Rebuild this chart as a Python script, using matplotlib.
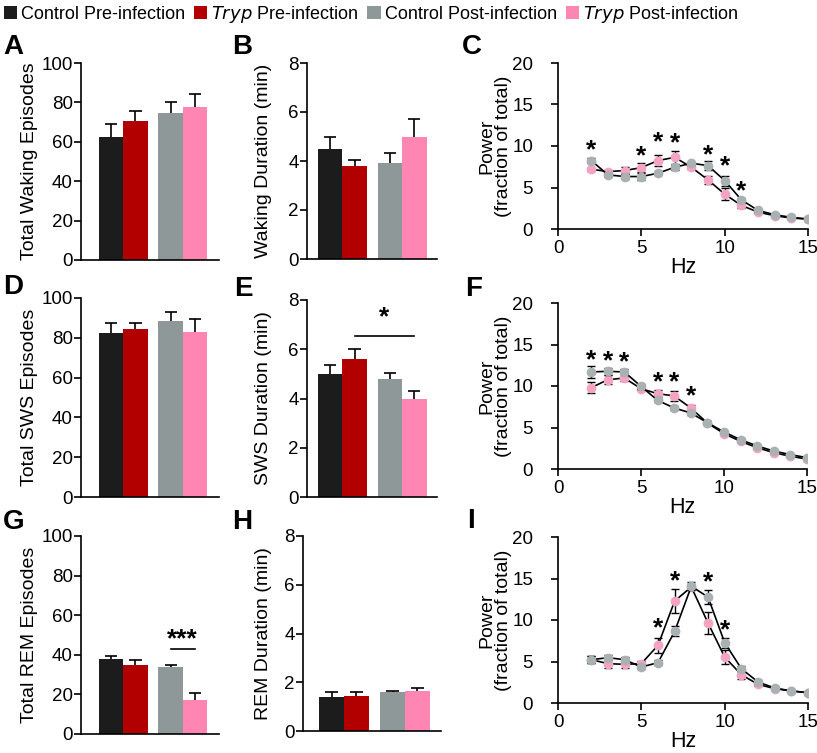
import numpy as np
import matplotlib
matplotlib.use('Agg')
import matplotlib.pyplot as plt
from matplotlib.patches import Patch

plt.rcParams['font.family'] = ['Liberation Sans', 'DejaVu Sans']
plt.rcParams['mathtext.fontset'] = 'custom'
plt.rcParams['mathtext.it'] = 'Liberation Sans Narrow:italic'
plt.rcParams['mathtext.rm'] = 'Liberation Sans Narrow'

# ─── Data ─────────────────────────────────────────────────────────────────────
GROUPS = ['Control Pre-infection', '$Tryp$ Pre-infection',
          'Control Post-infection', '$Tryp$ Post-infection']
BAR_COLORS = ['#1c1c1c', '#b20000', '#8e9898', '#ff86b3']
GRAY_MK = '#a9b1b3'
PINK_MK = '#f5a3c2'

wake_ep = [62.4, 70.7, 74.4, 77.8]
wake_ep_err = [6.8, 4.7, 5.6, 6.6]
wake_dur = [4.5, 3.79, 3.9, 4.99]
wake_dur_err = [0.49, 0.24, 0.43, 0.71]
sws_ep = [82.4, 84.4, 88.5, 83.1]
sws_ep_err = [5.0, 3.0, 4.3, 6.2]
sws_dur = [4.99, 5.61, 4.8, 3.97]
sws_dur_err = [0.38, 0.41, 0.23, 0.35]
rem_ep = [37.8, 35.1, 33.6, 17.0]
rem_ep_err = [1.7, 2.5, 1.3, 3.5]
rem_dur = [1.4, 1.44, 1.59, 1.66]
rem_dur_err = [0.2, 0.16, 0.07, 0.1]

hz = [2, 3, 4, 5, 6, 7, 8, 9, 10, 11, 12, 13, 14, 15]

# wake spectra (C)
wake_ctl = [8.24, 6.52, 6.32, 6.32, 6.72, 7.44, 7.92, 7.64, 5.84, 3.52, 2.24, 1.72, 1.4, 1.2]
wake_ctl_err = [0.3, 0.2, 0.3, 0.4, 0.2, 0.3, 0.2, 0.56, 0.6, 0.25, 0.15, 0.1, 0.1, 0.1]
wake_tryp = [7.2, 6.92, 7.04, 7.4, 8.24, 8.64, 7.44, 5.92, 4.2, 2.84, 2.04, 1.6, 1.32, 1.2]
wake_tryp_err = [0.2, 0.2, 0.45, 0.5, 0.7, 0.76, 0.2, 0.5, 0.76, 0.3, 0.1, 0.1, 0.1, 0.1]
wake_star_x = [2, 5, 6, 7, 9, 10, 11]
wake_star_y = [9.5, 8.8, 10.4, 10.3, 8.9, 7.6, 4.5]

# SWS spectra (F)
sws_ctl = [11.69, 11.77, 11.69, 9.96, 8.27, 7.35, 6.75, 5.58, 4.46, 3.53, 2.77, 2.17, 1.73, 1.37]
sws_ctl_err = [0.7, 0.4, 0.3, 0.3, 0.2, 0.2, 0.2, 0.15, 0.15, 0.1, 0.1, 0.1, 0.1, 0.1]
sws_tryp = [9.8, 10.76, 10.96, 9.68, 9.08, 8.8, 7.35, 5.54, 4.26, 3.33, 2.57, 1.97, 1.53, 1.2]
sws_tryp_err = [0.7, 0.56, 0.3, 0.2, 0.4, 0.56, 0.4, 0.15, 0.15, 0.1, 0.1, 0.1, 0.1, 0.1]
sws_star_x = [2, 3, 4, 6, 7, 8]
sws_star_y = [13.1, 13.0, 12.8, 10.4, 10.4, 8.7]

# REM spectra (I)
rem_ctl = [5.22, 5.46, 5.22, 4.34, 4.86, 8.63, 14.06, 12.77, 7.27, 4.14, 2.53, 1.81, 1.45, 1.24]
rem_ctl_err = [0.4, 0.3, 0.3, 0.2, 0.3, 0.6, 0.5, 0.8, 0.6, 0.3, 0.2, 0.1, 0.1, 0.1]
rem_tryp = [5.22, 4.74, 4.66, 4.74, 6.95, 12.29, 13.98, 9.64, 5.54, 3.41, 2.25, 1.73, 1.45, 1.24]
rem_tryp_err = [0.4, 0.5, 0.5, 0.3, 0.9, 1.4, 0.4, 1.3, 0.8, 0.5, 0.2, 0.1, 0.1, 0.1]
rem_star_x = [6, 7, 9, 10]
rem_star_y = [8.96, 14.7, 14.6, 8.8]

# ─── Layout helpers ───────────────────────────────────────────────────────────
W, H = 817, 753
fig = plt.figure(figsize=(W / 100, H / 100), dpi=100)
XPOS = [0, 1, 2.45, 3.45]
LW = 1.2
TICK_FS = 13.5
LABEL_FS = 14


def add_ax(left, top, right, bottom):
    return fig.add_axes([left / W, 1 - bottom / H, (right - left) / W, (bottom - top) / H])


def style(ax):
    for s in ['top', 'right']:
        ax.spines[s].set_visible(False)
    for s in ['left', 'bottom']:
        ax.spines[s].set_linewidth(LW)
    ax.tick_params(width=LW, length=5, labelsize=TICK_FS, direction='out', pad=1)


def bar_panel(box, vals, errs, ymax, step, ylabel, label_x, xlim):
    ax = add_ax(*box)
    ax.bar(XPOS, vals, width=1.0, color=BAR_COLORS, zorder=2)
    tops = np.array(vals) + np.array(errs)
    ax.vlines(XPOS, vals, tops, color='black', lw=LW, zorder=1)
    ax.hlines(tops, np.array(XPOS) - 0.25, np.array(XPOS) + 0.25, color='black', lw=LW, zorder=1)
    ax.set_ylim(0, ymax)
    ax.set_yticks(np.arange(0, ymax + step / 2, step))
    ax.set_xlim(*xlim)
    ax.set_xticks([])
    style(ax)
    ax.set_ylabel(ylabel, fontsize=LABEL_FS)
    ax.yaxis.set_label_coords((label_x - box[0]) / (box[2] - box[0]), 0.5)
    return ax


def line_panel(box, ctl, ctl_err, tryp, tryp_err, star_x, star_y):
    ax = add_ax(*box)
    ax.errorbar(hz, tryp, yerr=tryp_err, color='black', lw=LW, ecolor='black',
                elinewidth=1.0, capsize=2.8, capthick=1.0, zorder=2,
                marker='o', markersize=6, mfc=PINK_MK, mec=PINK_MK)
    ax.errorbar(hz, ctl, yerr=ctl_err, color='black', lw=LW, ecolor='black',
                elinewidth=1.0, capsize=2.8, capthick=1.0, zorder=3,
                marker='o', markersize=6, mfc=GRAY_MK, mec=GRAY_MK)
    for sx, sy in zip(star_x, star_y):
        ax.text(sx, sy, '*', ha='center', va='center', fontsize=19, fontweight='bold')
    ax.set_xlim(0, 15)
    ax.set_ylim(0, 20)
    ax.set_xticks([0, 5, 10, 15])
    ax.set_yticks([0, 5, 10, 15, 20])
    style(ax)
    ax.tick_params(axis='y', pad=13)
    ax.tick_params(axis='x', pad=3)
    ax.set_xlabel('Hz', fontsize=LABEL_FS + 1.5, labelpad=0)
    ax.set_ylabel('Power\n(fraction of total)', fontsize=LABEL_FS, linespacing=0.95)
    ax.yaxis.set_label_coords((512 - box[0]) / (box[2] - box[0]), 0.5)
    return ax


# ─── Bars ─────────────────────────────────────────────────────────────────────
bar_panel((81, 63, 219, 260), wake_ep, wake_ep_err, 100, 20,
          'Total Waking Episodes', 38, (-1.25, 4.45))
bar_panel((307, 63, 437, 259), wake_dur, wake_dur_err, 8, 2,
          'Waking Duration (min)', 272, (-0.95, 4.38))
bar_panel((81, 298, 219, 497), sws_ep, sws_ep_err, 100, 20,
          'Total SWS Episodes', 38, (-1.25, 4.45))
axE = bar_panel((307, 300, 437, 497), sws_dur, sws_dur_err, 8, 2,
                'SWS Duration (min)', 272, (-0.95, 4.38))
axG = bar_panel((81, 536, 219, 734), rem_ep, rem_ep_err, 100, 20,
                'Total REM Episodes', 38, (-1.25, 4.45))
bar_panel((303, 536, 441, 731), rem_dur, rem_dur_err, 8, 2,
          'REM Duration (min)', 272, (-1.15, 4.4))

# significance brackets
axE.plot([XPOS[1], XPOS[3]], [6.53, 6.53], color='black', lw=LW)
axE.text((XPOS[1] + XPOS[3]) / 2, 7.3, '*', ha='center', va='center', fontsize=19, fontweight='bold')
axG.plot([XPOS[2], XPOS[3]], [42.7, 42.7], color='black', lw=LW)
axG.text((XPOS[2] + XPOS[3]) / 2, 48, '***', ha='center', va='center', fontsize=19, fontweight='bold')

# ─── Spectra ──────────────────────────────────────────────────────────────────
line_panel((558, 63, 808, 229), wake_ctl, wake_ctl_err, wake_tryp, wake_tryp_err,
           wake_star_x, wake_star_y)
line_panel((558, 303, 807, 469), sws_ctl, sws_ctl_err, sws_tryp, sws_tryp_err,
           sws_star_x, sws_star_y)
line_panel((558, 537, 808, 703), rem_ctl, rem_ctl_err, rem_tryp, rem_tryp_err,
           rem_star_x, rem_star_y)

# ─── Panel letters ────────────────────────────────────────────────────────────
letters = {'A': (3, 47), 'B': (232, 47), 'C': (462, 47),
           'D': (3, 287), 'E': (234, 289), 'F': (465, 289),
           'G': (3, 522), 'H': (232, 522), 'I': (467, 521)}
for k, (lx, ly) in letters.items():
    fig.text(lx / W, 1 - ly / H, k, fontsize=20, fontweight='bold', ha='left', va='center')

# ─── Legend ───────────────────────────────────────────────────────────────────
handles = [Patch(facecolor=c, edgecolor='none') for c in BAR_COLORS]
leg = fig.legend(handles, GROUPS, loc='upper left', bbox_to_anchor=(0.0, 1.0),
                 ncol=4, frameon=False, fontsize=13, handlelength=0.75, handleheight=0.75,
                 handletextpad=0.2, columnspacing=0.5, borderpad=0.2, borderaxespad=0.0)
for t in leg.get_texts():
    t.set_family(['Liberation Sans Narrow', 'Liberation Sans'])

fig.savefig('out.png', dpi=100)
